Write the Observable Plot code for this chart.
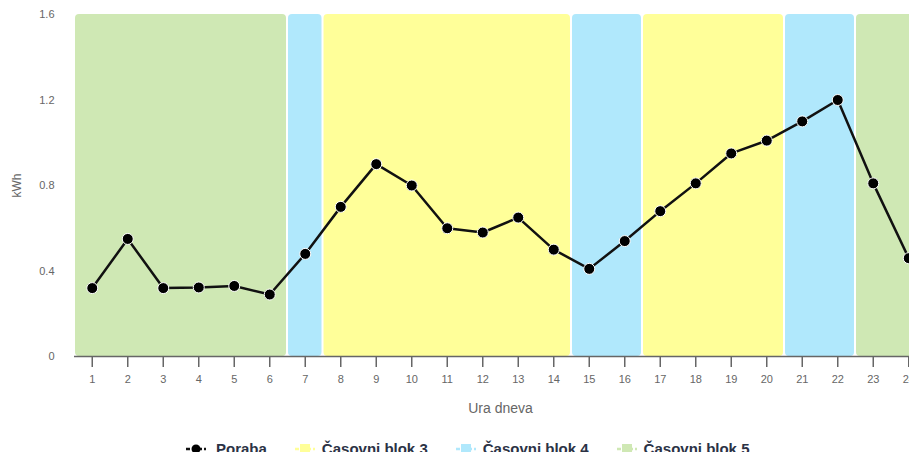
<!DOCTYPE html>
<html>
<head>
<meta charset="utf-8">
<script src="https://cdn.jsdelivr.net/npm/d3@7"></script>
<script src="https://cdn.jsdelivr.net/npm/@observablehq/plot@0.6"></script>
<style>
  html, body { margin: 0; padding: 0; background: #fff; overflow: hidden; width: 909px; height: 452px; }
  body { font-family: "Liberation Sans", Arial, sans-serif; position: relative; }
  #chart { width: 909px; overflow: hidden; }
  #chart svg { max-width: none !important; display: block; }
  #legend { position: absolute; left: 186px; top: 440px; display: flex; align-items: center; font-size: 15px; font-weight: bold; color: #2b3245; white-space: nowrap; line-height: 18px; }
  #legend .item { display: flex; align-items: center; margin-right: 28px; }
  #legend svg { margin-right: 7px; }
  #legend .item.first svg { margin-right: 10px; }
</style>
</head>
<body>
<div id="chart"></div>
<div id="legend"></div>
<script>
const hours = [1,2,3,4,5,6,7,8,9,10,11,12,13,14,15,16,17,18,19,20,21,22,23,24];
const poraba = [0.32,0.55,0.32,0.323,0.33,0.29,0.48,0.70,0.90,0.80,0.60,0.58,0.65,0.50,0.41,0.54,0.68,0.81,0.95,1.01,1.10,1.20,0.81,0.46];
const blockStart = [0.5, 6.5, 7.5, 14.5, 16.5, 20.5, 22.5];
const blockEnd   = [6.5, 7.5, 14.5, 16.5, 20.5, 22.5, 24.5];
const blockName  = ["Časovni blok 5","Časovni blok 4","Časovni blok 3","Časovni blok 4","Časovni blok 3","Časovni blok 4","Časovni blok 5"];
const yTicks = [0, 0.4, 0.8, 1.2, 1.6];
const seriesName = "Poraba";
const legendNames = ["Časovni blok 3","Časovni blok 4","Časovni blok 5"];
const blockColors = {"Časovni blok 3": "#ffff99", "Časovni blok 4": "#b0e8fc", "Časovni blok 5": "#cfe8b4"};

const points = hours.map((h, i) => ({hour: h, value: poraba[i]}));
const blocks = blockStart.map((s, i) => ({start: s, end: blockEnd[i], name: blockName[i]}));

const chart = Plot.plot({
  width: 940,
  height: 425,
  marginLeft: 74,
  marginRight: 14,
  marginTop: 14,
  marginBottom: 69,
  style: {fontFamily: "'Liberation Sans', Arial, sans-serif", fontSize: "12px", color: "#666", background: "#fff", maxWidth: "none"},
  x: {domain: [0.5, 24.5]},
  y: {domain: [0, 1.6]},
  marks: [
    Plot.rectY(blocks, {x1: "start", x2: "end", y1: 0, y2: 1.6, fill: d => blockColors[d.name], insetLeft: 1, insetRight: 1, rx: 4}),
    Plot.ruleY([0], {stroke: "#666", strokeWidth: 1.5}),
    Plot.axisX({ticks: hours, tickSize: 11, tickPadding: 8, tickFormat: d => String(d), stroke: "#666", strokeWidth: 1.5, color: "#666", fontSize: 11, label: "Ura dneva", labelAnchor: "center", labelOffset: 56, labelArrow: "none"}),
    Plot.axisY({ticks: yTicks, tickSize: 0, tickPadding: 20, tickFormat: d => String(d), color: "#666", fontSize: 11, label: "kWh", labelAnchor: "center", labelOffset: 62, labelArrow: "none"}),
    Plot.line(points, {x: "hour", y: "value", stroke: "#111", strokeWidth: 2.5}),
    Plot.dot(points, {x: "hour", y: "value", r: 5.5, fill: "#000", stroke: "#fff", strokeWidth: 1})
  ]
});
document.getElementById("chart").appendChild(chart);
chart.querySelectorAll('[aria-label="x-axis label"] text').forEach(t => { t.setAttribute("font-size", "14"); t.style.fontSize = "14px"; });
chart.querySelectorAll('[aria-label="y-axis label"] text').forEach(t => { t.setAttribute("font-size", "12"); t.style.fontSize = "12px"; });

// legend
const legend = document.getElementById("legend");
function addItem(name, kind) {
  const item = document.createElement("div");
  item.className = kind === "line" ? "item first" : "item";
  const ns = "http://www.w3.org/2000/svg";
  const s = document.createElementNS(ns, "svg");
  s.setAttribute("width", "20"); s.setAttribute("height", "12");
  const l = document.createElementNS(ns, "line");
  l.setAttribute("x1", 0); l.setAttribute("x2", 20); l.setAttribute("y1", 6); l.setAttribute("y2", 6);
  l.setAttribute("stroke-width", 2.5); l.setAttribute("stroke-dasharray", "4,2");
  s.appendChild(l);
  if (kind === "line") {
    l.setAttribute("stroke", "#111");
    const c = document.createElementNS(ns, "circle");
    c.setAttribute("cx", 10); c.setAttribute("cy", 6); c.setAttribute("r", 4.5); c.setAttribute("fill", "#000");
    s.appendChild(c);
  } else {
    l.setAttribute("stroke", blockColors[name]);
    const r = document.createElementNS(ns, "rect");
    r.setAttribute("x", 5); r.setAttribute("y", 1); r.setAttribute("width", 10); r.setAttribute("height", 10);
    r.setAttribute("fill", blockColors[name]);
    s.appendChild(r);
  }
  item.appendChild(s);
  const t = document.createElement("span");
  t.textContent = name;
  item.appendChild(t);
  legend.appendChild(item);
}
addItem(seriesName, "line");
legendNames.forEach(n => addItem(n, "rect"));
</script>
</body>
</html>
